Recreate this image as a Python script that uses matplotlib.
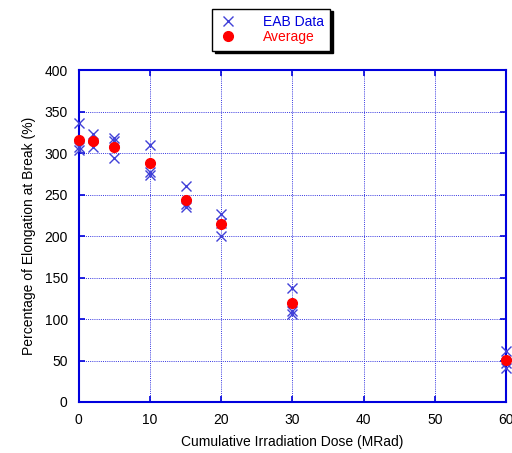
import matplotlib.pyplot as plt

plt.rcParams['font.family'] = ['Liberation Sans', 'DejaVu Sans']

# individual EAB measurements
dose_data = [0, 0, 0, 2, 2, 5, 5, 5, 10, 10, 10, 15, 15, 15, 20, 20, 20, 30, 30, 30, 60, 60, 60]
eab_data = [336, 308, 304, 323, 307, 318, 315, 294, 310, 278, 274, 260, 239, 235, 227, 216, 200, 138, 110, 106, 61, 47, 41]

# averages per dose
dose_avg = [0, 2, 5, 10, 15, 20, 30, 60]
eab_avg = [316, 315, 308, 288, 244, 215, 119, 51]

blue = '#0000dd'

fig = plt.figure(figsize=(5.12, 4.53), dpi=100)
ax = fig.add_axes([0.154, 0.1126, 0.834, 0.732])

ax.plot(dose_data, eab_data, 'x', color='#4040d8', ms=7, mew=1.0, label='EAB Data', zorder=3, clip_on=False)
ax.plot(dose_avg, eab_avg, 'o', color='red', ms=7, mec='red', label='Average', zorder=4, clip_on=False)

ax.set_xlim(0, 60)
ax.set_ylim(0, 400)
ax.set_xticks(range(0, 61, 10))
ax.set_yticks(range(0, 401, 50))
ax.grid(True, color='#3535e0', linestyle=(0, (1, 1.2)), linewidth=0.7)
for s in ax.spines.values():
    s.set_color(blue)
    s.set_linewidth(1.5)
ax.tick_params(direction='in', color=blue, length=4, width=1.2, top=True, right=True,
               labelsize=10, pad=8)

ax.set_xlabel('Cumulative Irradiation Dose (MRad)', fontsize=10, labelpad=6)
ax.set_ylabel('Percentage of Elongation at Break (%)', fontsize=10, labelpad=6)

leg = fig.legend(loc='upper center', bbox_to_anchor=(0.53, 0.99), fontsize=10,
                 frameon=True, fancybox=False, shadow={'color': 'black', 'alpha': 1},
                 handletextpad=1.8, borderpad=0.45, labelspacing=0.1, handlelength=1.4,
                 borderaxespad=0.3)
leg.get_frame().set_edgecolor('black')
leg.get_frame().set_linewidth(1.0)
for t, c in zip(leg.get_texts(), [blue, 'red']):
    t.set_color(c)

fig.savefig('out.png')
